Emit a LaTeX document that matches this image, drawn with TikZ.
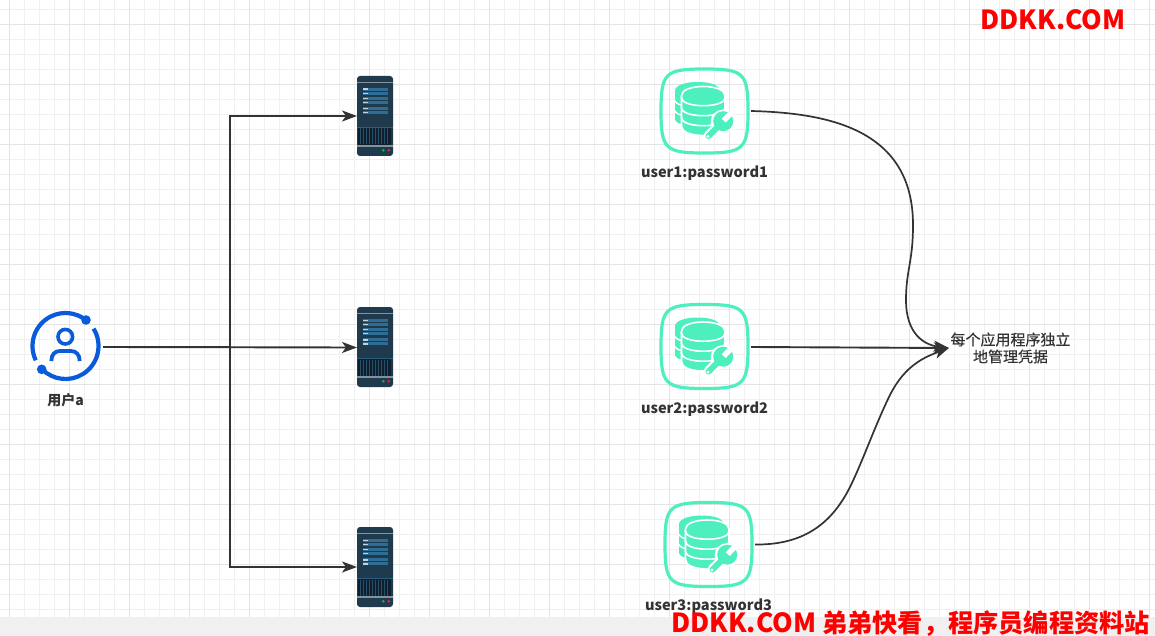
\documentclass[tikz,border=0pt]{standalone}
\usepackage{fontspec}
\setmainfont{Noto Sans CJK SC}
\newfontfamily\notefont[FakeBold=0.35]{Noto Sans CJK SC}
\usetikzlibrary{arrows.meta}
\definecolor{gridminor}{HTML}{F0F0F0}
\definecolor{gridmajor}{HTML}{E4E4E4}
\definecolor{strip}{HTML}{F0F0F0}
\definecolor{ink}{HTML}{333333}
\definecolor{blueicon}{HTML}{0A5BDC}
\definecolor{mint}{HTML}{4DEFBE}
\definecolor{srvbody}{HTML}{1F3A4D}
\definecolor{srvbar}{HTML}{2F6D94}
\definecolor{srvband}{HTML}{83939D}
\definecolor{srvdark}{HTML}{0F1F2D}
\definecolor{wm}{HTML}{FF0000}
\tikzset{
  slot/.style={minimum width=#1,minimum height=1pt,inner sep=0pt,outer sep=0pt,draw=none},
  link/.style={draw=ink,line width=1.9pt,-{Stealth[length=15pt,width=11pt,inset=4pt]}},
  curvelink/.style={link,line width=1.7pt},
  lbl/.style={text=ink,inner sep=0pt,font=\fontsize{14.6}{17}\selectfont\bfseries},
  note/.style={text=ink,inner sep=0pt,text width=123pt,align=center,font=\fontsize{15}{17}\notefont},
  wmark/.style={text=wm,inner sep=0pt,font=\fontsize{26.3}{28}\selectfont\bfseries},
}
\newcommand{\ServerIcon}[1]{%
\begin{scope}[shift={(0,#1)}]
  \fill[srvbody,rounded corners=3pt] (357,76) rectangle (393,156);
  \fill[srvband] (357,81.6) rectangle (393,83);
  \foreach \ya/\yb in {87.7/91,92/95,97/100,101.3/104,107/110.3,111.3/114.3}{
    \fill[srvbar] (362.5,\ya) rectangle (388,\yb);
    \fill[white!70!srvbar] (362.5,\ya+0.8) rectangle (368,\yb-0.8);
  }
  \fill[srvdark] (358,127.5) rectangle (391,145);
  \fill[srvbar!70!srvbody] (357,127) rectangle (393,127.7);
  \foreach \xx in {360,363,366,369,372,375,378,381,384,387}{
    \fill[srvbar!45!srvbody] (\xx,128.5) rectangle (\xx+0.9,144.5);
  }
  \fill[srvband] (357,145) rectangle (393,147);
  \fill[green!50!teal] (383.3,150.3) circle[radius=1.4];
  \fill[red!60!purple!85!white] (388.7,150.3) circle[radius=1.4];
\end{scope}}
\newcommand{\DbIcon}[2]{%
\begin{scope}[shift={(#1,#2)}]
  % squircle frame
  \draw[mint,line width=3.2pt] (704.5,69)
    .. controls (744,69) and (748,73) .. (748,111)
    .. controls (748,149) and (744,153) .. (704.5,153)
    .. controls (665,153) and (661,149) .. (661,111)
    .. controls (661,73) and (665,69) .. (704.5,69) -- cycle;
  % back cylinder
  \fill[mint] (675,91)
    .. controls (675,85) and (686,82) .. (697,82)
    .. controls (708,82) and (716,84) .. (719,88) -- (719,125)
    .. controls (700,132) and (675,128) .. (675,120) -- cycle;
  % front cylinder
  \draw[white,line width=1.6pt,fill=mint] (681.5,95.7)
    .. controls (681.5,90) and (691,86.5) .. (703.3,86.5)
    .. controls (715.5,86.5) and (725,90) .. (725,95.7)
    -- (725,126) .. controls (725,132) and (715.5,135.5) .. (703.3,135.5)
    .. controls (691,135.5) and (681.5,132) .. (681.5,126) -- cycle;
  \foreach \yy in {95.7,105.7,115.7}{
    \draw[white,line width=1.6pt] (681,\yy+1)
      .. controls (681,\yy+7) and (691,\yy+10) .. (703.3,\yy+10)
      .. controls (715.5,\yy+10) and (725.5,\yy+7) .. (725.5,\yy+1);
  }
  \foreach \yy in {100,110,120}{
    \draw[white,line width=1.4pt] (674,\yy) .. controls (675,\yy+2) and (677,\yy+4) .. (681,\yy+5);
  }
  % wrench
  \draw[white,line width=10pt,line cap=round] (722.5,122) -- (708.5,136);
  \fill[white] (722.7,121.7) circle[radius=12];
  \draw[mint,line width=6pt,line cap=round] (722.5,122) -- (708.5,136);
  \fill[mint] (723.2,121.2) circle[radius=10];
  \draw[white,line width=5.5pt] (723.8,120.6) -- (733,111);
  \fill[white] (708,136.5) circle[radius=1.6];
\end{scope}}
\begin{document}
\begin{tikzpicture}[x=1pt,y=-1pt]
\useasboundingbox (0,0) rectangle (1155,636);
\fill[white] (0,0) rectangle (1155,636);
% grid
\foreach \k in {0,...,76}{
  \pgfmathsetmacro{\gx}{9.5+15*\k}
  \draw[gridminor,line width=1pt] (\gx,0) -- (\gx,617);
}
\foreach \k in {0,...,40}{
  \pgfmathsetmacro{\gy}{9.5+15*\k}
  \draw[gridminor,line width=1pt] (0,\gy) -- (1155,\gy);
}
\foreach \k in {0,...,19}{
  \pgfmathsetmacro{\gx}{9.5+60*\k}
  \draw[gridmajor,line width=1pt] (\gx,0) -- (\gx,617);
}
\foreach \k in {0,...,9}{
  \pgfmathsetmacro{\gy}{24.5+60*\k}
  \draw[gridmajor,line width=1pt] (0,\gy) -- (1155,\gy);
}
\fill[strip] (0,617) rectangle (1155,636);
% anchor nodes
\node[slot=75pt,minimum height=75pt] (user) at (65.5,347) {};
\node[slot=36pt,minimum height=80pt] (srv1) at (375,116) {};
\node[slot=36pt,minimum height=80pt] (srv2) at (375,347.5) {};
\node[slot=36pt,minimum height=80pt] (srv3) at (375,567) {};
\node[slot=93pt,minimum height=85pt] (db1) at (704.5,111) {};
\node[slot=93pt,minimum height=85pt] (db2) at (704.5,347) {};
\node[slot=93pt,minimum height=85pt] (db3) at (708.5,544.5) {};
% user icon
\draw[blueicon,line width=4.2pt] (65.5,346) ++(-205.7:33) arc[start angle=-205.7,end angle=-51.7,radius=33];
\draw[blueicon,line width=4.2pt] (65.5,346) ++(-31.8:33) arc[start angle=-31.8,end angle=135.6,radius=33];
\fill[blueicon] (86,320) circle[radius=4.8];
\fill[blueicon] (41.7,369.3) circle[radius=4.8];
\draw[blueicon,line width=3.6pt] (65.3,336.7) circle[radius=7.3];
\draw[blueicon,line width=3.8pt] (51.3,361) .. controls (51.3,354.5) and (55,351) .. (60,351) -- (71,351) .. controls (76,351) and (79.7,354.5) .. (79.7,361);
% servers and databases
\ServerIcon{0}
\ServerIcon{231}
\ServerIcon{451}
\DbIcon{0}{0}
\DbIcon{0}{235.5}
\DbIcon{4}{433.5}
% labels
\node[lbl] (ulabel) at (65.5,400) {\fontsize{14}{17}\selectfont 用户a};
\node[lbl] (l1) at (704.5,173.5) {user1:password1};
\node[lbl] (l2) at (704.5,409.5) {user2:password2};
\node[lbl] (l3) at (708.5,606.5) {user3:password3};
\node[note] (txt) at (1010.5,348) {每个应用程序独立\\地管理凭据};
% connectors
\coordinate (busTop) at (230,116);
\coordinate (busBot) at (230,567);
\coordinate (joinA) at (913,225);
\coordinate (joinB) at (906,300);
\coordinate (joinC) at (850,487);
\coordinate (joinD) at (890,395);
\draw[link] (user.east) -- (busTop |- user.east) -- (busTop) -- (srv1.west);
\draw[link] (user.east) -- (srv2.west);
\draw[link] (user.east) -- (busBot |- user.east) -- (busBot) -- (srv3.west);
\draw[curvelink] (db1.east) .. controls (830,113) and (913,130) .. (joinA)
  .. controls (913,262) and (906,270) .. (joinB)
  .. controls (906,335) and (925,345) .. (txt.west);
\draw[link] (db2.east) -- (txt.west);
\draw[curvelink] (db3.east) .. controls (800,545) and (830,527) .. (joinC)
  .. controls (862,463) and (876,423) .. (joinD)
  .. controls (905,365) and (925,357) .. (txt.west);
% watermarks
\node[wmark,anchor=center] (wm1) at (1053,20) {DDKK.COM};
\node[wmark,anchor=east] (wm2) at (1150,623.5) {DDKK.COM\hspace{6pt}{\fontsize{25.2}{28}\selectfont 弟弟快看，程序员编程资料站}};
\end{tikzpicture}
\end{document}
